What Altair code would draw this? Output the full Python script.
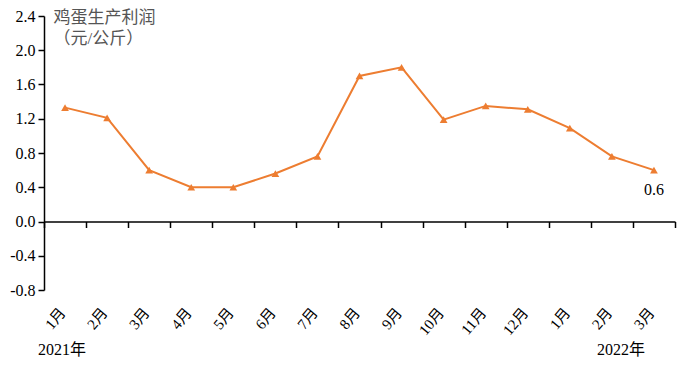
import altair as alt
import pandas as pd

keys = ["2021-1", "2021-2", "2021-3", "2021-4", "2021-5", "2021-6", "2021-7", "2021-8",
        "2021-9", "2021-10", "2021-11", "2021-12", "2022-1", "2022-2", "2022-3"]
profit = [1.33, 1.21, 0.60, 0.40, 0.40, 0.56, 0.76, 1.70, 1.80, 1.19, 1.35, 1.31, 1.09, 0.76, 0.60]
y_ticks = [-0.8, -0.4, 0.0, 0.4, 0.8, 1.2, 1.6, 2.0, 2.4]
title_lines = ["鸡蛋生产利润", "（元/公斤）"]
year_labels = ["2021年", "2022年"]
year_keys = ["2021-1", "2022-2"]

df = pd.DataFrame({"key": keys, "v": profit})
last = pd.DataFrame({"key": [keys[-1]], "v": [profit[-1]], "t": ["0.6"]})
y1 = pd.DataFrame({"key": [year_keys[0]], "t": [year_labels[0]]})
y2 = pd.DataFrame({"key": [year_keys[1]], "t": [year_labels[1]]})

FONT = "Liberation Serif, Noto Sans CJK SC"
ORANGE = "#ED7D31"
W, H = 631, 274

x = alt.X("key:N", sort=keys, scale=alt.Scale(domain=keys, paddingInner=0, paddingOuter=0),
          axis=alt.Axis(title=None, offset=-68.5, tickBand="extent", tickSize=6,
                        tickColor="black", domainColor="black", domainWidth=1.5, tickWidth=1.5,
                        labelAngle=-50, labelAlign="right", labelBaseline="middle",
                        labelPadding=82, labelOffset=-3, labelFont=FONT, labelFontSize=15,
                        labelColor="black", labelOverlap=False, labelFlush=False,
                        labelExpr="isValid(datum.value) ? split(datum.value,'-')[1] + '月' : ''"))

y = alt.Y("v:Q", scale=alt.Scale(domain=[-0.8, 2.4], nice=False, zero=False),
          axis=alt.Axis(values=y_ticks, tickCount=20, grid=False, tickSize=6,
                        tickColor="black", domainColor="black", domainWidth=1.5, tickWidth=1.5,
                        labelFont=FONT, labelFontSize=16, labelColor="black", labelPadding=3,
                        labelOverlap=False, labelFlush=False,
                        labelExpr="datum.value < 0 ? '-' + format(-datum.value, '.1f') : format(datum.value, '.1f')",
                        title=title_lines, titleAngle=0, titleAlign="left", titleBaseline="top",
                        titleX=9, titleY=-7, titleFont=FONT, titleFontSize=17,
                        titleFontWeight="normal", titleColor="#555555", titleLineHeight=21))

xs = alt.X("key:N", sort=keys)
base = alt.Chart(df)
line = base.mark_line(color=ORANGE, strokeWidth=2).encode(x=x, y=y)
pts = base.mark_point(shape="triangle-up", filled=True, color=ORANGE, size=60, opacity=1).encode(x=x, y=y)
lbl = alt.Chart(last).mark_text(font=FONT, fontSize=16, color="black", dy=20).encode(
    x=xs, y="v:Q", text="t:N")
yr1 = alt.Chart(y1).mark_text(font=FONT, fontSize=16, color="black", align="center", baseline="middle", dx=-3).encode(
    x=xs, y=alt.value(H + 60), text="t:N")
yr2 = alt.Chart(y2).mark_text(font=FONT, fontSize=16, color="black", align="center", baseline="middle", dx=9).encode(
    x=xs, y=alt.value(H + 60), text="t:N")

chart = alt.layer(line, pts, lbl, yr1, yr2).properties(
    width=W, height=H,
    autosize=alt.AutoSizeParams(type="none"),
    padding={"left": 36, "top": 8, "right": 10, "bottom": 71},
    background="white",
).configure_view(stroke=None)

chart.save("out.html", embed_options={"renderer": "svg", "actions": False})
